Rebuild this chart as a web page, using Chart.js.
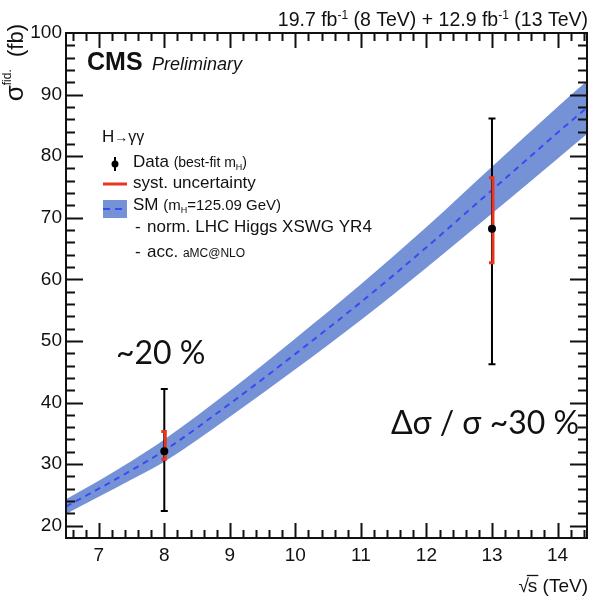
<!DOCTYPE html>
<html>
<head>
<meta charset="utf-8">
<script src="https://cdn.jsdelivr.net/npm/chart.js@4.4.1/dist/chart.umd.min.js"></script>
<style>
  html, body { margin: 0; padding: 0; background: #ffffff; }
  #c { display: block; }
</style>
</head>
<body>
<canvas id="c" width="590" height="600"></canvas>
<script>
// Measured fiducial cross sections, H -> gamma gamma
const energies  = [8, 13];          // sqrt(s) in TeV
const sigmaFid  = [32.1, 68.2];     // best-fit value (fb)
const statLow   = [22.4, 46.2];     // total uncertainty band, lower edge
const statHigh  = [42.2, 86.1];     // total uncertainty band, upper edge
const systLow   = [30.8, 62.7];     // systematic component, lower edge
const systHigh  = [35.3, 76.5];     // systematic component, upper edge

// SM prediction vs sqrt(s) (mH = 125.09 GeV)
const smEnergy  = [6.5, 7, 7.5, 8, 9, 10, 11, 12, 13, 14, 14.45];
const smCentral = [23.1, 26.0, 29.0, 32.2, 39.8, 47.9, 56.3, 65.2, 74.5, 83.8, 87.9];
const smLow     = [21.9, 24.7, 27.5, 30.4, 37.7, 45.4, 53.4, 61.9, 70.7, 79.6, 83.6];
const smHigh    = [24.3, 27.3, 30.5, 34.0, 41.9, 50.4, 59.2, 68.5, 78.3, 88.0, 92.2];

// Axis tick labels
const xTicks = [7, 8, 9, 10, 11, 12, 13, 14];
const yTicks = [20, 30, 40, 50, 60, 70, 80, 90, 100];

const FONT = '"Liberation Sans", Arial, Helvetica, sans-serif';
const BIG_FONT = 'Lato, "Open Sans", sans-serif';
const INK = '#111111';
const BAND = '#7592d6';
const SM_LINE = '#3a4af2';
const SYST = '#e8361e';

const pts = (xs, ys) => xs.map((x, i) => ({ x: x, y: ys[i] }));

function drawRich(ctx, segs, x, y, align) {
  let w = 0;
  segs.forEach(s => { ctx.font = s.font; s.w = ctx.measureText(s.t).width; w += s.w; });
  let cx = align === 'right' ? x - w : x;
  segs.forEach(s => {
    ctx.font = s.font;
    ctx.fillText(s.t, cx, y + (s.dy || 0));
    cx += s.w;
  });
  return w;
}

// Error bars for the data points (stat+syst in black, syst in red)
const errorBars = {
  id: 'errorBars',
  afterDatasetDraw(chart, args) {
    if (args.index !== 0) return;
    const ctx = chart.ctx, xs = chart.scales.x, ys = chart.scales.y;
    ctx.save();
    energies.forEach((e, i) => {
      const px = xs.getPixelForValue(e);
      const top = ys.getPixelForValue(statHigh[i]);
      const bot = ys.getPixelForValue(statLow[i]);
      ctx.strokeStyle = '#000';
      ctx.lineWidth = 2;
      ctx.beginPath();
      ctx.moveTo(px, top); ctx.lineTo(px, bot);
      ctx.moveTo(px - 3.5, top); ctx.lineTo(px + 3.5, top);
      ctx.moveTo(px - 3.5, bot); ctx.lineTo(px + 3.5, bot);
      ctx.stroke();
      const st = ys.getPixelForValue(systHigh[i]);
      const sb = ys.getPixelForValue(systLow[i]);
      ctx.strokeStyle = SYST;
      ctx.lineWidth = 3;
      ctx.beginPath();
      ctx.moveTo(px + 1, st); ctx.lineTo(px + 1, sb);
      ctx.moveTo(px - 3, st); ctx.lineTo(px + 2.5, st);
      ctx.moveTo(px - 3, sb); ctx.lineTo(px + 2.5, sb);
      ctx.stroke();
      ctx.fillStyle = '#000';
      ctx.beginPath();
      ctx.arc(px, ys.getPixelForValue(sigmaFid[i]), 4, 0, Math.PI * 2);
      ctx.fill();
    });
    ctx.restore();
  }
};

// Frame, inward ticks, titles, legend and annotations
const decorations = {
  id: 'decorations',
  afterDraw(chart) {
    const ctx = chart.ctx, a = chart.chartArea, xs = chart.scales.x, ys = chart.scales.y;
    ctx.save();
    ctx.strokeStyle = INK;
    ctx.lineWidth = 2;
    ctx.strokeRect(a.left, a.top, a.right - a.left, a.bottom - a.top);

    ctx.beginPath();
    for (let k = 30; k <= 75; k++) {
      const v = k / 5;
      if (v <= xs.min || v >= xs.max) continue;
      const px = Math.round(xs.getPixelForValue(v)) + 0.5;
      const len = (k % 5 === 0) ? 15 : 8;
      ctx.moveTo(px, a.bottom); ctx.lineTo(px, a.bottom - len);
      ctx.moveTo(px, a.top); ctx.lineTo(px, a.top + len);
    }
    for (let v = 18; v <= 100; v += 2) {
      if (v <= ys.min || v >= ys.max) continue;
      const py = Math.round(ys.getPixelForValue(v)) + 0.5;
      const len = (v % 10 === 0) ? 17 : 9;
      ctx.moveTo(a.left, py); ctx.lineTo(a.left + len, py);
      ctx.moveTo(a.right, py); ctx.lineTo(a.right - len, py);
    }
    ctx.stroke();

    ctx.fillStyle = INK;
    ctx.textAlign = 'left';
    ctx.textBaseline = 'alphabetic';

    // luminosity line
    drawRich(ctx, [
      { t: '19.7 fb', font: `19.5px ${FONT}` },
      { t: '-1', font: `12px ${FONT}`, dy: -7 },
      { t: ' (8 TeV) + 12.9 fb', font: `19.5px ${FONT}` },
      { t: '-1', font: `12px ${FONT}`, dy: -7 },
      { t: ' (13 TeV)', font: `19.5px ${FONT}` }
    ], 588, 26, 'right');

    // experiment label
    ctx.font = `bold 25px ${FONT}`;
    ctx.fillText('CMS', 87, 70);
    ctx.font = `italic 18px ${FONT}`;
    ctx.fillText('Preliminary', 152, 70);

    // x title: sqrt(s) (TeV)
    ctx.font = `19px ${FONT}`;
    const tail = ' (TeV)';
    const wTail = ctx.measureText(tail).width;
    const wS = ctx.measureText('s').width;
    const wR = ctx.measureText('\u221A').width;
    const xEnd = 588;
    const sx = xEnd - wTail - wS;
    ctx.fillText(tail, xEnd - wTail, 592);
    ctx.fillText('s', sx, 592);
    ctx.fillText('\u221A', sx - wR + 1, 592);
    ctx.lineWidth = 1.3;
    ctx.beginPath();
    ctx.moveTo(sx - 1, 575.5); ctx.lineTo(sx + wS + 1, 575.5);
    ctx.stroke();

    // y title: sigma^fid. (fb)
    ctx.save();
    ctx.translate(23, 24);
    ctx.rotate(-Math.PI / 2);
    drawRich(ctx, [
      { t: '\u03C3', font: `26px ${FONT}` },
      { t: 'fid.', font: `12px ${FONT}`, dy: -12 },
      { t: '  (fb)', font: `22px ${FONT}` }
    ], 0, 0, 'right');
    ctx.restore();

    // legend
    ctx.fillStyle = INK;
    drawRich(ctx, [
      { t: 'H', font: `17px ${FONT}` },
      { t: '\u2192', font: `14px ${FONT}` },
      { t: '\u03B3\u03B3', font: `16px ${FONT}` }
    ], 102, 142, 'left');

    ctx.strokeStyle = '#000';
    ctx.lineWidth = 2;
    ctx.beginPath();
    ctx.moveTo(115, 157); ctx.lineTo(115, 171);
    ctx.stroke();
    ctx.fillStyle = '#000';
    ctx.beginPath(); ctx.arc(115, 164, 3.5, 0, Math.PI * 2); ctx.fill();
    ctx.fillStyle = INK;
    drawRich(ctx, [
      { t: 'Data ', font: `17px ${FONT}` },
      { t: '(best-fit m', font: `14px ${FONT}` },
      { t: 'H', font: `9px ${FONT}`, dy: 3 },
      { t: ')', font: `14px ${FONT}` }
    ], 133, 167, 'left');

    ctx.strokeStyle = SYST;
    ctx.lineWidth = 3;
    ctx.beginPath(); ctx.moveTo(103, 184); ctx.lineTo(127, 184); ctx.stroke();
    ctx.font = `17px ${FONT}`;
    ctx.fillText('syst. uncertainty', 133, 188);

    ctx.fillStyle = BAND;
    ctx.fillRect(103, 200, 24, 18);
    ctx.strokeStyle = SM_LINE;
    ctx.lineWidth = 2;
    ctx.setLineDash([7, 5]);
    ctx.beginPath(); ctx.moveTo(103, 209); ctx.lineTo(127, 209); ctx.stroke();
    ctx.setLineDash([]);
    ctx.fillStyle = INK;
    drawRich(ctx, [
      { t: 'SM ', font: `17px ${FONT}` },
      { t: '(m', font: `15px ${FONT}` },
      { t: 'H', font: `9px ${FONT}`, dy: 3 },
      { t: '=125.09 GeV)', font: `15px ${FONT}` }
    ], 133, 210, 'left');

    ctx.font = `17px ${FONT}`;
    ctx.fillText('-', 135, 232);
    ctx.fillText('norm. LHC Higgs XSWG YR4', 147, 232);
    ctx.fillText('-', 135, 257);
    drawRich(ctx, [
      { t: 'acc. ', font: `17px ${FONT}` },
      { t: 'aMC@NLO', font: `12px ${FONT}` }
    ], 147, 257, 'left');

    // uncertainty annotations
    ctx.font = `32px ${BIG_FONT}`;
    ctx.fillText('~20 %', 116, 364);
    ctx.fillText('\u0394\u03C3 / \u03C3 ~30 %', 391, 434);

    ctx.restore();
  }
};

const chart = new Chart(document.getElementById('c'), {
  type: 'line',
  data: {
    datasets: [
      {
        label: 'Data',
        data: pts(energies, sigmaFid),
        showLine: false,
        pointRadius: 0,
        borderColor: '#000',
        backgroundColor: '#000'
      },
      {
        label: 'SM',
        data: pts(smEnergy, smCentral),
        borderColor: SM_LINE,
        borderWidth: 2,
        borderDash: [6, 5],
        pointRadius: 0,
        fill: false,
        cubicInterpolationMode: 'monotone'
      },
      {
        label: 'SM upper',
        data: pts(smEnergy, smHigh),
        borderColor: 'rgba(0,0,0,0)',
        borderWidth: 0,
        backgroundColor: BAND,
        pointRadius: 0,
        fill: '+1',
        cubicInterpolationMode: 'monotone'
      },
      {
        label: 'SM lower',
        data: pts(smEnergy, smLow),
        borderColor: 'rgba(0,0,0,0)',
        borderWidth: 0,
        pointRadius: 0,
        fill: false,
        cubicInterpolationMode: 'monotone'
      }
    ]
  },
  options: {
    responsive: false,
    animation: false,
    events: [],
    layout: { padding: { left: 0, right: 3, top: 33, bottom: 0 } },
    plugins: { legend: { display: false }, tooltip: { enabled: false } },
    scales: {
      x: {
        type: 'linear',
        min: 6.5,
        max: 14.45,
        afterBuildTicks: (axis) => { axis.ticks = xTicks.map(v => ({ value: v })); },
        afterFit: (axis) => { axis.height = 62; },
        grid: { display: false, drawTicks: false },
        border: { display: false },
        ticks: { font: { family: FONT, size: 19 }, color: INK, padding: 6, maxRotation: 0, autoSkip: false }
      },
      y: {
        type: 'linear',
        min: 18,
        max: 100,
        afterBuildTicks: (axis) => { axis.ticks = yTicks.map(v => ({ value: v })); },
        afterFit: (axis) => { axis.width = 66; },
        grid: { display: false, drawTicks: false },
        border: { display: false },
        ticks: { font: { family: FONT, size: 19 }, color: INK, padding: 4, autoSkip: false }
      }
    }
  },
  plugins: [errorBars, decorations]
});
</script>
</body>
</html>
